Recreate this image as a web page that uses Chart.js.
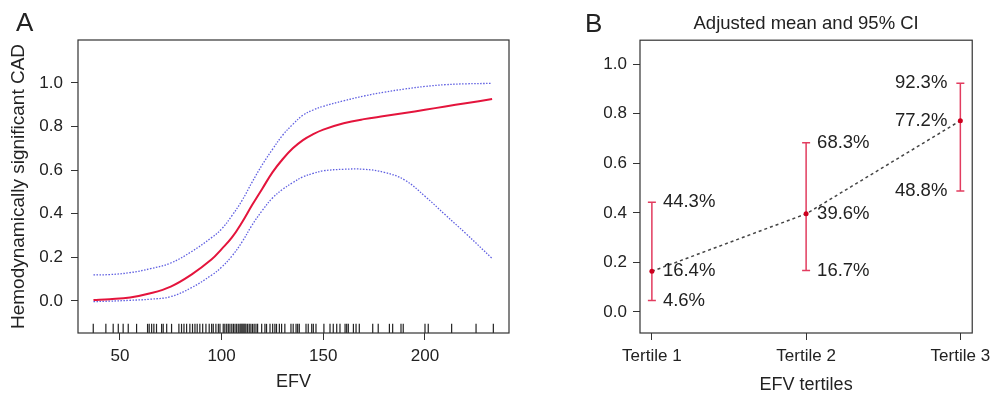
<!DOCTYPE html>
<html><head><meta charset="utf-8">
<script src="https://cdn.jsdelivr.net/npm/chart.js@4/dist/chart.umd.min.js"></script>
<style>
html,body{margin:0;padding:0;background:#fff;width:997px;height:394px;overflow:hidden;font-family:'Liberation Sans',Arial,sans-serif;}
#wrapA{position:absolute;left:0;top:0;width:520px;height:396px;}
#wrapB{position:absolute;left:520px;top:0;width:477px;height:396px;}
.letter{position:absolute;font-size:26px;color:#222;line-height:1;}
</style></head><body>
<div id="wrapA"><canvas id="cA" width="520" height="396"></canvas></div>
<div id="wrapB"><canvas id="cB" width="477" height="396"></canvas></div>
<div class="letter" style="left:16px;top:9px">A</div>
<div class="letter" style="left:585px;top:10px">B</div>
<script>
// ---------- Panel A data ----------
const efvGrid = [37,45,55,65,75,85,95,100,105,110,115,120,125,130,135,140,145,150,160,170,180,190,200,210,220,233];
const fitA    = [0.004,0.008,0.016,0.035,0.066,0.12,0.19,0.238,0.29,0.36,0.44,0.515,0.59,0.65,0.70,0.738,0.765,0.786,0.815,0.834,0.848,0.862,0.877,0.892,0.907,0.926];
const upperA  = [0.12,0.121,0.13,0.148,0.174,0.225,0.29,0.33,0.39,0.46,0.545,0.625,0.695,0.76,0.81,0.852,0.876,0.893,0.918,0.94,0.958,0.972,0.984,0.992,0.996,0.998];
const lowerA  = [-0.003,-0.001,0.003,0.008,0.02,0.06,0.118,0.155,0.205,0.27,0.348,0.415,0.472,0.512,0.543,0.569,0.585,0.597,0.604,0.604,0.59,0.555,0.48,0.395,0.31,0.195];
const rugEFV  = [36.9,43.1,46.7,49.2,51.6,54.1,58.2,63.6,64.4,65.6,66.7,68.0,70.5,71.3,73.0,75.4,79.0,80.3,81.5,82.8,84.4,85.7,86.9,88.0,89.3,90.7,92.3,93.9,95.1,95.9,97.2,98.4,99.2,100.8,101.6,102.5,103.3,104.1,105,105.8,106.6,107.4,108.2,109,109.5,110,110.5,111,111.5,112,112.8,113.6,114.4,115.2,116,116.9,117.7,119.7,121.3,122.1,123.8,125.1,126.2,127,128.4,129.5,131.1,134.1,135.2,136.6,137.4,138.2,141.5,142.6,144.3,145.1,146.4,150.3,153.3,154.9,156.6,158.2,160.7,161.5,162.3,164.8,166.1,167.7,174.3,177,182.5,184.1,188.2,189.3,200,201.6,213.1,225.1,233.6];
const xTicksA = [50,100,150,200];
const yTicksA = [0,0.2,0.4,0.6,0.8,1.0];

// ---------- Panel B data ----------
const tertiles = ['Tertile 1','Tertile 2','Tertile 3'];
const meansB  = [0.164,0.396,0.772];
const lowerB  = [0.046,0.167,0.488];
const upperB  = [0.443,0.683,0.923];
const yTicksB = [0,0.2,0.4,0.6,0.8,1.0];

const FF = "'Liberation Sans', Arial, sans-serif";
Chart.defaults.font.family = FF;
Chart.defaults.color = '#222';

const boxPlugin = {id:'box', afterDraw(chart){
  const {ctx, chartArea:a} = chart;
  ctx.save(); ctx.strokeStyle='#333'; ctx.lineWidth=1.2;
  ctx.strokeRect(a.left, a.top, a.right-a.left, a.bottom-a.top);
  ctx.restore();
}};

const pts = (xs, ys) => xs.map((x,i)=>({x:x, y:ys[i]}));
const RUG_Y = -0.126;

new Chart(document.getElementById('cA'), {
  type:'line',
  data:{datasets:[
    {label:'fit', data:pts(efvGrid, fitA), borderColor:'rgb(228,20,60)', borderWidth:2, pointRadius:0, tension:0.4, fill:false},
    {label:'upper', data:pts(efvGrid, upperA), borderColor:'rgb(95,95,225)', borderWidth:1.3, borderDash:[1.5,1.5], pointRadius:0, tension:0.4, fill:false},
    {label:'lower', data:pts(efvGrid, lowerA), borderColor:'rgb(95,95,225)', borderWidth:1.3, borderDash:[1.5,1.5], pointRadius:0, tension:0.4, fill:false},
    {type:'scatter', label:'rug', data:rugEFV.map(v=>({x:v, y:RUG_Y})), pointStyle:'line', rotation:90, pointRadius:4.6, borderColor:'#222', borderWidth:1.2, pointHoverRadius:4.6}
  ]},
  options:{
    responsive:false, animation:false, devicePixelRatio:1,
    layout:{padding:{top:40, right:11, left:0, bottom:0}},
    plugins:{legend:{display:false}, tooltip:{enabled:false}},
    scales:{
      x:{type:'linear', min:29.4, max:241.3,
        afterBuildTicks:s=>{s.ticks = xTicksA.map(v=>({value:v}));},
        afterFit:s=>{s.height=63;},
        grid:{drawOnChartArea:false, color:'#333', tickLength:7},
        border:{display:false},
        ticks:{font:{size:17}, padding:6, color:'#222', maxRotation:0, callback:v=>String(v)},
        title:{display:true, text:'EFV', font:{size:18}, color:'#222', padding:{top:0,bottom:3}}
      },
      y:{type:'linear', min:-0.147, max:1.197,
        afterBuildTicks:s=>{s.ticks = yTicksA.map(v=>({value:v}));},
        afterFit:s=>{s.width=78;},
        grid:{drawOnChartArea:false, color:'#333', tickLength:7},
        border:{display:false},
        ticks:{font:{size:17}, padding:8, color:'#222', callback:v=>Number(v).toFixed(1)},
        title:{display:true, text:'Hemodynamically significant CAD', font:{size:19}, color:'#222', padding:{top:7,bottom:0}}
      }
    }
  },
  plugins:[boxPlugin]
});

const errPlugin = {id:'err',
  beforeDatasetsDraw(chart){
    const {ctx, scales:{x, y}} = chart;
    ctx.save(); ctx.strokeStyle='rgb(226,60,95)'; ctx.lineWidth=1.5;
    for(let i=0;i<meansB.length;i++){
      const px = x.getPixelForValue(i), yl = y.getPixelForValue(lowerB[i]), yu = y.getPixelForValue(upperB[i]);
      ctx.beginPath();
      ctx.moveTo(px, yl); ctx.lineTo(px, yu);
      ctx.moveTo(px-4, yl); ctx.lineTo(px+4, yl);
      ctx.moveTo(px-4, yu); ctx.lineTo(px+4, yu);
      ctx.stroke();
    }
    ctx.restore();
  },
  afterDatasetsDraw(chart){
    const {ctx, scales:{x, y}} = chart;
    ctx.save(); ctx.fillStyle='#222'; ctx.font = '18.5px ' + FF; ctx.textBaseline='middle';
    for(let i=0;i<meansB.length;i++){
      const px = x.getPixelForValue(i);
      const right = i === meansB.length-1;
      ctx.textAlign = right ? 'right' : 'left';
      const tx = right ? px-13 : px+11;
      [upperB[i], meansB[i], lowerB[i]].forEach(v=>{
        ctx.fillText((v*100).toFixed(1)+'%', tx, y.getPixelForValue(v));
      });
    }
    ctx.restore();
  }
};

new Chart(document.getElementById('cB'), {
  type:'line',
  data:{datasets:[
    {label:'mean', data:meansB.map((m,i)=>({x:i, y:m})), borderColor:'#444', borderWidth:1.5, borderDash:[3,3],
     pointRadius:2.5, pointBackgroundColor:'rgb(205,0,30)', pointBorderColor:'rgb(205,0,30)', pointBorderWidth:0, tension:0, fill:false}
  ]},
  options:{
    responsive:false, animation:false, devicePixelRatio:1,
    layout:{padding:{top:0, right:22, left:0, bottom:0}},
    plugins:{legend:{display:false}, tooltip:{enabled:false},
      title:{display:true, text:'Adjusted mean and 95% CI', fullSize:false, font:{size:18.5, weight:'normal'}, color:'#222', padding:{top:13, bottom:5}}
    },
    scales:{
      x:{type:'linear', min:-0.077, max:2.077,
        afterBuildTicks:s=>{s.ticks = tertiles.map((t,i)=>({value:i}));},
        afterFit:s=>{s.height=63;},
        grid:{drawOnChartArea:false, color:'#333', tickLength:7},
        border:{display:false},
        ticks:{font:{size:17}, padding:6, color:'#222', maxRotation:0, callback:v=>tertiles[v]},
        title:{display:true, text:'EFV tertiles', font:{size:18}, color:'#222', padding:{top:0,bottom:0}}
      },
      y:{type:'linear', min:-0.085, max:1.097,
        afterBuildTicks:s=>{s.ticks = yTicksB.map(v=>({value:v}));},
        afterFit:s=>{s.width=120;},
        grid:{drawOnChartArea:false, color:'#333', tickLength:7},
        border:{display:false},
        ticks:{font:{size:17}, padding:6, color:'#222', callback:v=>Number(v).toFixed(1)}
      }
    }
  },
  plugins:[boxPlugin, errPlugin]
});
</script>
</body></html>
